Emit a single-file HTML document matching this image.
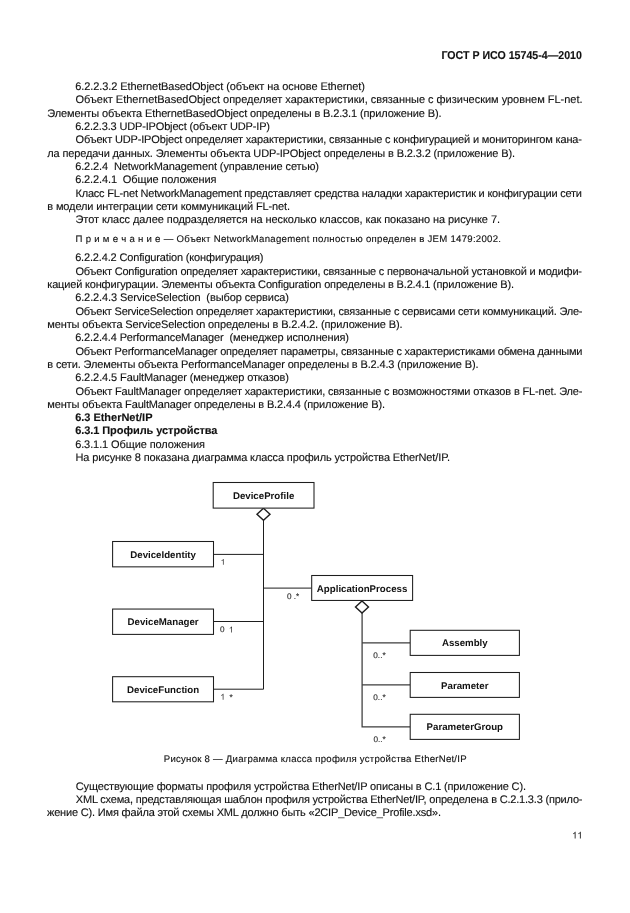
<!DOCTYPE html>
<html lang="ru">
<head>
<meta charset="utf-8">
<title>ГОСТ Р ИСО 15745-4—2010</title>
<style>
html,body{margin:0;padding:0;background:#fff;}
body{width:630px;height:913px;position:relative;overflow:hidden;}
svg{position:absolute;left:0;top:0;display:block;will-change:transform;}
text{font-family:"Liberation Sans",sans-serif;text-rendering:geometricPrecision;white-space:pre;}
.t{fill:#111;stroke:#111;stroke-width:0.12px;}
.b{font-weight:bold;}
</style>
</head>
<body>
<svg width="630" height="913" viewBox="0 0 630 913">
<defs>
<filter id="soft" x="0" y="0" width="630" height="913" filterUnits="userSpaceOnUse" color-interpolation-filters="sRGB">
<feConvolveMatrix order="3" kernelMatrix="0 0 0 0 1 0 0 0 0" divisor="1" edgeMode="duplicate" preserveAlpha="false"/>
</filter>
</defs>
<g filter="url(#soft)">
<rect x="0" y="0" width="630" height="913" fill="#fff"/>
<g class="t">
<text x="441.40" y="59.30" font-size="11.4" class="b" textLength="140.50" lengthAdjust="spacingAndGlyphs">ГОСТ Р ИСО 15745-4—2010</text>
<text x="75.15" y="89.80" font-size="11.0" letter-spacing="-0.0819">6.2.2.3.2 EthernetBasedObject (объект на основе Ethernet)</text>
<text x="75.50" y="103.13" font-size="11.0" letter-spacing="-0.0204">Объект EthernetBasedObject определяет характеристики, связанные с физическим уровнем FL-net.</text>
<text x="47.30" y="117.30" font-size="11.0" letter-spacing="-0.1292">Элементы объекта EthernetBasedObject определены в B.2.3.1 (приложение B).</text>
<text x="75.15" y="129.79" font-size="11.0" letter-spacing="-0.1578">6.2.2.3.3 UDP-IPObject (объект UDP-IP)</text>
<text x="75.50" y="143.12" font-size="11.0" letter-spacing="-0.1539">Объект UDP-IPObject определяет характеристики, связанные с конфигурацией и мониторингом кана-</text>
<text x="47.30" y="157.00" font-size="11.0" letter-spacing="-0.1340">ла передачи данных. Элементы объекта UDP-IPObject определены в B.2.3.2 (приложение B).</text>
<text x="75.15" y="169.78" font-size="11.0" letter-spacing="-0.0982">6.2.2.4  NetworkManagement (управление сетью)</text>
<text x="75.15" y="183.11" font-size="11.0" letter-spacing="-0.1129">6.2.2.4.1  Общие положения</text>
<text x="75.50" y="196.85" font-size="11.0" letter-spacing="-0.2142">Класс FL-net NetworkManagement представляет средства наладки характеристик и конфигурации сети</text>
<text x="47.30" y="210.15" font-size="11.0" letter-spacing="-0.1308">в модели интеграции сети коммуникаций FL-net.</text>
<text x="75.50" y="223.30" font-size="11.0" letter-spacing="-0.0771">Этот класс далее подразделяется на несколько классов, как показано на рисунке 7.</text>
<text x="75.60" y="242.00" font-size="9.6" letter-spacing="0.2770">П р и м е ч а н и е — Объект NetworkManagement полностью определен в JEM 1479:2002.</text>
<text x="75.15" y="260.80" font-size="11.0" letter-spacing="-0.1535">6.2.2.4.2 Configuration (конфигурация)</text>
<text x="75.50" y="274.50" font-size="11.0" letter-spacing="-0.1961">Объект Configuration определяет характеристики, связанные с первоначальной установкой и модифи-</text>
<text x="47.30" y="287.50" font-size="11.0" letter-spacing="-0.1753">кацией конфигурации. Элементы объекта Configuration определены в B.2.4.1 (приложение B).</text>
<text x="75.15" y="300.85" font-size="11.0" letter-spacing="-0.0969">6.2.2.4.3 ServiceSelection  (выбор сервиса)</text>
<text x="75.50" y="314.85" font-size="11.0" letter-spacing="-0.2109">Объект ServiceSelection определяет характеристики, связанные с сервисами сети коммуникаций. Эле-</text>
<text x="47.30" y="327.55" font-size="11.0" letter-spacing="-0.1290">менты объекта ServiceSelection определены в B.2.4.2. (приложение B).</text>
<text x="75.15" y="340.90" font-size="11.0" letter-spacing="-0.1361">6.2.2.4.4 PerformanceManager  (менеджер исполнения)</text>
<text x="75.50" y="354.60" font-size="11.0" letter-spacing="-0.2036">Объект PerformanceManager определяет параметры, связанные с характеристиками обмена данными</text>
<text x="47.30" y="367.60" font-size="11.0" letter-spacing="-0.1464">в сети. Элементы объекта PerformanceManager определены в B.2.4.3 (приложение B).</text>
<text x="75.15" y="380.95" font-size="11.0" letter-spacing="-0.0955">6.2.2.4.5 FaultManager (менеджер отказов)</text>
<text x="75.50" y="394.50" font-size="11.0" letter-spacing="-0.1523">Объект FaultManager определяет характеристики, связанные с возможностями отказов в FL-net. Эле-</text>
<text x="47.30" y="407.65" font-size="11.0" letter-spacing="-0.1457">менты объекта FaultManager определены в B.2.4.4 (приложение B).</text>
<text x="75.15" y="421.05" font-size="11.0" letter-spacing="-0.0208" class="b">6.3 EtherNet/IP</text>
<text x="75.15" y="434.45" font-size="11.0" letter-spacing="-0.0656" class="b">6.3.1 Профиль устройства</text>
<text x="75.15" y="447.75" font-size="11.0" letter-spacing="-0.0956">6.3.1.1 Общие положения</text>
<text x="75.50" y="461.05" font-size="11.0" letter-spacing="-0.1227">На рисунке 8 показана диаграмма класса профиль устройства EtherNet/IP.</text>
<text x="163.80" y="762.30" font-size="9.6" letter-spacing="0.2420">Рисунок 8 — Диаграмма класса профиля устройства EtherNet/IP</text>
<text x="75.80" y="789.90" font-size="11.0" letter-spacing="-0.1430">Существующие форматы профиля устройства EtherNet/IP описаны в C.1 (приложение C).</text>
<text x="75.80" y="803.10" font-size="11.0" letter-spacing="-0.1927">XML схема, представляющая шаблон профиля устройства EtherNet/IP, определена в C.2.1.3.3 (прило-</text>
<text x="47.00" y="816.30" font-size="11.0" letter-spacing="-0.1762">жение C). Имя файла этой схемы XML должно быть «2CIP_Device_Profile.xsd».</text>
</g>
<g stroke="#1e1e1e" stroke-width="1" fill="none">
<path d="M263.5 520.0 V689.2 H213.5"/>
<path d="M213.5 554.4 H263.5"/>
<path d="M213.5 621.5 H263.5"/>
<path d="M263.5 588.1 H311.7"/>
</g>
<g stroke="#3c3c3c" stroke-width="1.25" fill="none">
<path d="M362.1 612.9 V726.8 H410.2"/>
<path d="M362.1 642.8 H410.2"/>
<path d="M362.1 684.9 H410.2"/>
</g>
<g stroke="#1e1e1e" stroke-width="1.4" fill="#fff" stroke-linejoin="miter">
<path d="M263.5 508.3 L270.0 514.2 L263.5 520.2 L257.0 514.2 Z"/>
<path d="M362.0 600.9 L368.5 606.9 L362.0 613.1 L355.5 606.9 Z"/>
</g>
<g stroke="#1e1e1e" stroke-width="1.05" fill="#fff">
<rect x="213.2" y="482.5" width="100.80" height="25.60"/>
<rect x="112.6" y="541.5" width="100.90" height="25.35"/>
<rect x="112.6" y="609.05" width="100.90" height="25.35"/>
<rect x="112.6" y="676.7" width="100.90" height="25.10"/>
<rect x="311.7" y="575.5" width="100.90" height="24.95"/>
<rect x="410.2" y="630.3" width="109.20" height="25.10"/>
<rect x="410.2" y="672.5" width="109.20" height="24.90"/>
<rect x="410.2" y="714.3" width="109.20" height="25.10"/>
</g>
<g font-size="9.7" font-weight="bold" fill="#111" text-anchor="middle">
<text x="263.6" y="498.9">DeviceProfile</text>
<text x="163.1" y="557.8">DeviceIdentity</text>
<text x="163.1" y="625.3">DeviceManager</text>
<text x="163.1" y="692.9">DeviceFunction</text>
<text x="362.1" y="591.6">ApplicationProcess</text>
<text x="464.8" y="646.4">Assembly</text>
<text x="464.8" y="688.6">Parameter</text>
<text x="464.8" y="730.4">ParameterGroup</text>
</g>
<g font-size="8.2" fill="#2a2a2a" stroke="#2a2a2a" stroke-width="0.12">
<text x="287.0" y="599.1">0 .*</text>
<text x="373.3" y="657.9">0..*</text>
<text x="373.3" y="699.9">0..*</text>
<text x="373.5" y="741.9">0..*</text>
<text x="220.0" y="632.4">0</text>
<text x="229.5" y="699.7">*</text>
</g>
<g fill="#2a2a2a">
<path transform="translate(220.60 564.80) scale(0.004004 -0.004004)" d="M763 0H583V1147Q518 1085 412.5 1023Q307 961 223 930V1104Q374 1175 487 1276Q600 1377 647 1472H763Z"/>
<path transform="translate(228.90 632.40) scale(0.004004 -0.004004)" d="M763 0H583V1147Q518 1085 412.5 1023Q307 961 223 930V1104Q374 1175 487 1276Q600 1377 647 1472H763Z"/>
<path transform="translate(220.40 699.70) scale(0.004004 -0.004004)" d="M763 0H583V1147Q518 1085 412.5 1023Q307 961 223 930V1104Q374 1175 487 1276Q600 1377 647 1472H763Z"/>
</g>
<g fill="#111">
<path transform="translate(572.00 838.60) scale(0.004639 -0.004639)" d="M763 0H583V1147Q518 1085 412.5 1023Q307 961 223 930V1104Q374 1175 487 1276Q600 1377 647 1472H763Z"/>
<path transform="translate(577.20 838.60) scale(0.004639 -0.004639)" d="M763 0H583V1147Q518 1085 412.5 1023Q307 961 223 930V1104Q374 1175 487 1276Q600 1377 647 1472H763Z"/>
</g>
</g>
</svg>
</body>
</html>
